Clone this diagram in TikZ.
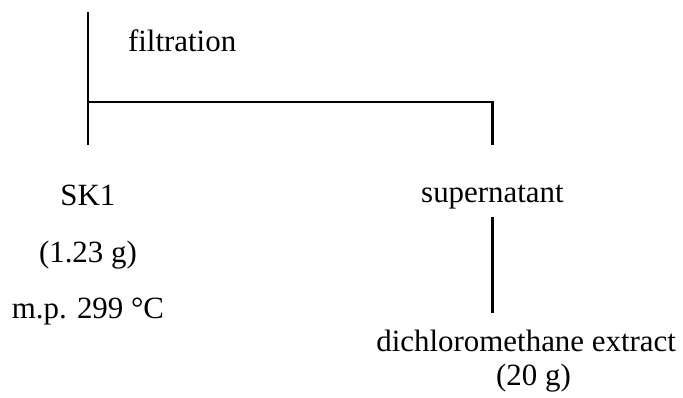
\documentclass[tikz,border=0pt]{standalone}
\usepackage{fontspec}
\setmainfont{Liberation Serif}
\begin{document}
\begin{tikzpicture}
        [txt/.style={inner sep=0pt, anchor=base, font=\fontsize{12}{14}\selectfont},
        branch/.style={line width=0.95pt}]
        \useasboundingbox (0,0) rectangle (9.32,-5.43);
        \node[txt, anchor=base west] (filt) at (1.74,-0.70) {filtration};
        \node[txt] (SK) at (1.20,-2.81) {SK1};
        \node[txt] (SKmass) at (1.20,-3.58) {(1.23 g)};
        \node[txt] (SKmp) at (1.20,-4.34) {m.p. 299 °C};
        \node[txt] (sup) at (6.72,-2.77) {supernatant};
        \node[txt] (dcm) at (7.18,-4.80) {dichloromethane extract};
        \node[txt] (dcmmass) at (7.28,-5.26) {(20 g)};

        \coordinate (top) at (1.20,-0.16);
        \coordinate (split) at (1.20,-1.39);
        \coordinate (leftend) at (1.20,-1.98);
        \coordinate (corner) at (6.72,-1.39);
        \coordinate (rightend) at (6.72,-1.98);
        \coordinate (supbot) at (6.72,-2.96);
        \coordinate (dcmtop) at (6.72,-4.27);

        \draw[branch] (top) -- (leftend);
        \draw[branch] (split) -- (corner) -- (rightend);
        \draw[branch] (supbot) -- (dcmtop);

    \end{tikzpicture}
\end{document}
